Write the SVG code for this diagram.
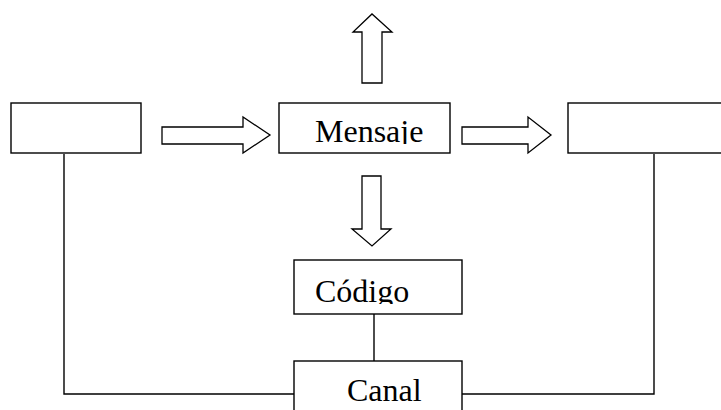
<svg xmlns="http://www.w3.org/2000/svg" width="721" height="410" viewBox="0 0 721 410">
  <style>
    .box { fill: #ffffff; stroke: #000000; stroke-width: 1.4; }
    .arrow { fill: #ffffff; stroke: #000000; stroke-width: 1.3; stroke-linejoin: miter; }
    .line { fill: none; stroke: #000000; stroke-width: 1.4; }
    .label { font-family: "Liberation Serif", "Times New Roman", serif; font-size: 32px; fill: #000000; }
  </style>
  <defs>
    <clipPath id="clipMensaje"><rect x="280" y="104" width="170" height="40"/></clipPath>
    <clipPath id="clipCodigo"><rect x="295" y="261" width="166" height="43"/></clipPath>
    <clipPath id="clipCanal"><rect x="295" y="362" width="166" height="48"/></clipPath>
  </defs>
  <rect width="721" height="410" fill="#ffffff"/>

  <g id="connectors">
    <polyline class="line" points="64,154 64,394 294,394"/>
    <polyline class="line" points="654,154 654,394 462,394"/>
    <line class="line" x1="374" y1="314" x2="374" y2="361"/>
    <polygon id="arrow-left" class="arrow" points="162,127 243,127 243,117 270,135 243,153 243,144 162,144"/>
    <polygon id="arrow-right" class="arrow" points="462,127 528,127 528,117 551,135 528,153 528,144 462,144"/>
    <polygon id="arrow-up" class="arrow" points="362,83 362,32 353,32 372,14 392,32 382,32 382,83"/>
    <polygon id="arrow-down" class="arrow" points="362,176 381,176 381,229 391,229 372,246 352,229 362,229"/>
  </g>

  <g id="node-emisor">
    <rect class="box" x="11" y="103" width="130" height="50"/>
  </g>

  <g id="node-mensaje">
    <rect class="box" x="279" y="103" width="171" height="50"/>
    <text class="label" x="315" y="142" clip-path="url(#clipMensaje)">Mensaje</text>
  </g>

  <g id="node-receptor">
    <rect class="box" x="568" y="103" width="160" height="50"/>
  </g>

  <g id="node-codigo">
    <rect class="box" x="294" y="260" width="168" height="54"/>
    <text class="label" x="315" y="302" clip-path="url(#clipCodigo)">Código</text>
  </g>

  <g id="node-canal">
    <rect class="box" x="294" y="361" width="168" height="60"/>
    <text class="label" x="347" y="401" clip-path="url(#clipCanal)">Canal</text>
  </g>
</svg>
